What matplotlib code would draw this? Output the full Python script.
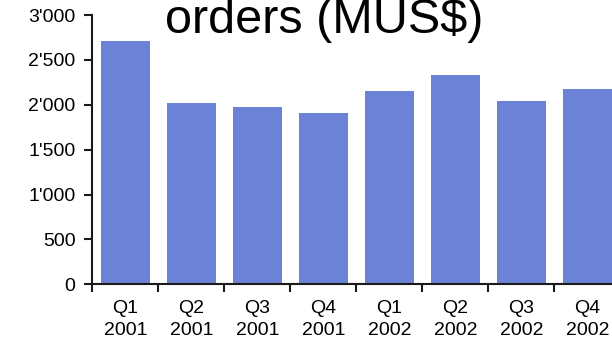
import matplotlib
matplotlib.use("Agg")
import matplotlib.pyplot as plt
from matplotlib.ticker import FuncFormatter, FixedLocator

plt.rcParams['font.family'] = ['Liberation Sans', 'DejaVu Sans']

# Quarterly orders in millions of US$
quarters = ["Q1", "Q2", "Q3", "Q4", "Q1", "Q2", "Q3", "Q4"]
years = ["2001", "2001", "2001", "2001", "2002", "2002", "2002", "2002"]
orders = [2710, 2020, 1980, 1910, 2155, 2333, 2040, 2177]
y_ticks = [0, 500, 1000, 1500, 2000, 2500, 3000]

bar_color = "#6b82d6"
axis_color = "#1a1a1a"

fig = plt.figure(figsize=(6.12, 3.45), dpi=100)
ax = fig.add_axes([0.1508, 0.1759, 0.8627, 0.7806])

x = list(range(len(orders)))
labels = [f"{q}\n{y}" for q, y in zip(quarters, years)]
ax.bar(x, orders, width=0.74, color=bar_color, zorder=2)

ax.set_xlim(-0.5, len(orders) - 0.5)
ax.set_ylim(0, 3000)

# category labels centred, tick marks on the boundaries between quarters
ax.set_xticks(x)
ax.set_xticklabels(labels, fontsize=14, linespacing=1.4)
ax.xaxis.set_minor_locator(FixedLocator([i - 0.5 for i in range(len(orders) + 1)]))
ax.tick_params(axis='x', which='major', length=0, pad=11)
ax.tick_params(axis='x', which='minor', length=6, width=1.5, color=axis_color)

ax.set_yticks(y_ticks)
ax.yaxis.set_major_formatter(FuncFormatter(lambda v, _: f"{int(v):,}".replace(",", "'")))
ax.tick_params(axis='y', length=6, width=1.5, color=axis_color, pad=6, labelsize=14)

for side in ("top", "right"):
    ax.spines[side].set_visible(False)
for side in ("left", "bottom"):
    ax.spines[side].set_linewidth(1.5)
    ax.spines[side].set_color(axis_color)

fig.text(0.529, 1 - 33 / 345, "orders (MUS$)", fontsize=35, ha='center', va='baseline')

fig.savefig("out.png", dpi=100)
